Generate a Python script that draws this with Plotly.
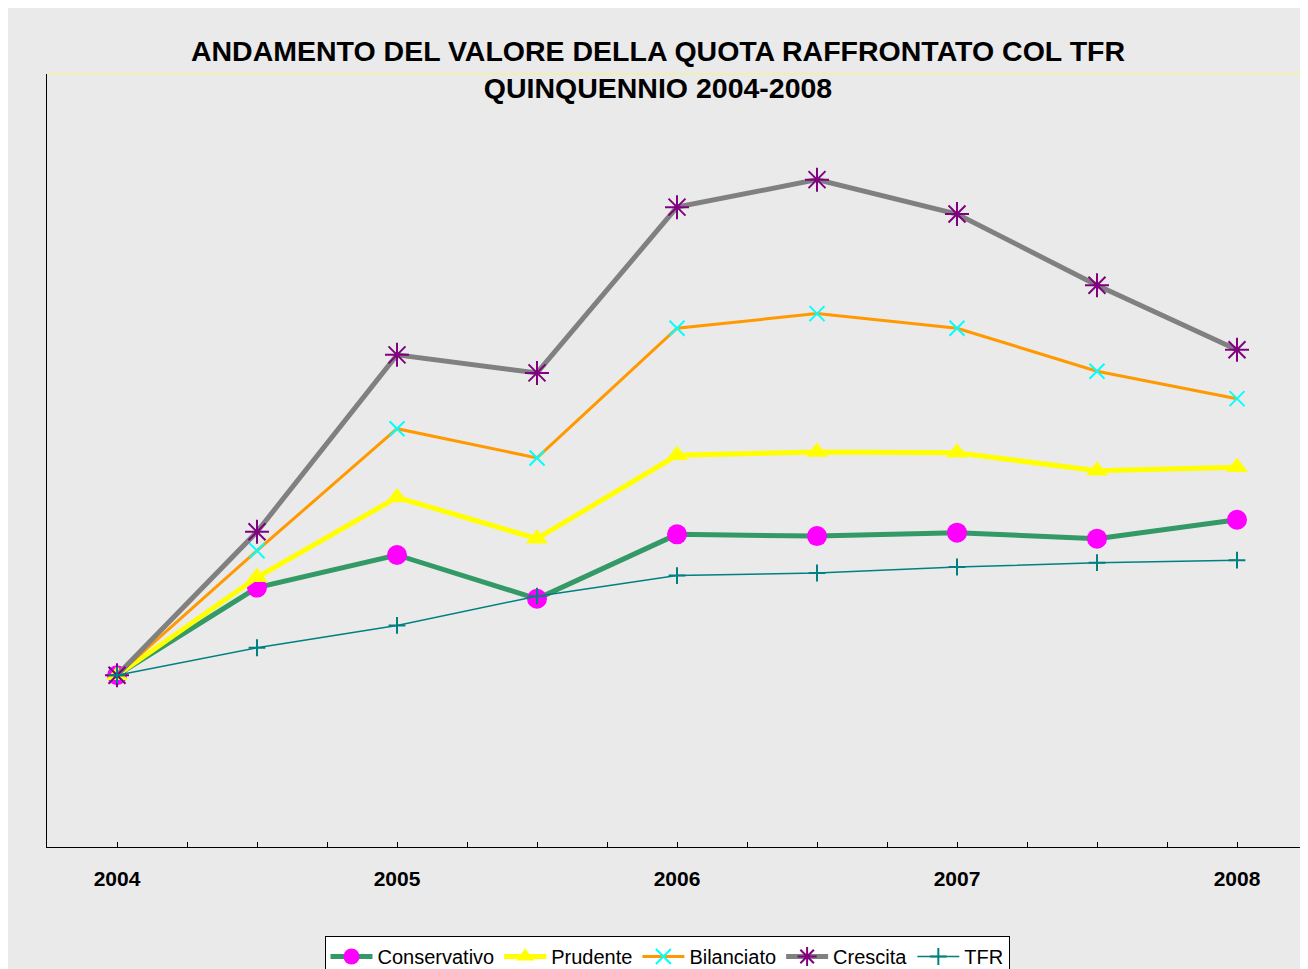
import plotly.graph_objects as go

# ---- data ----
years = ["2004", "2005", "2006", "2007", "2008"]
x_pos = [0, 1, 2, 3, 4, 5, 6, 7, 8]          # half-year steps; labels at even positions
label_pos = [0, 2, 4, 6, 8]

conservativo = [100.0, 110.2, 114.0, 108.9, 116.4, 116.2, 116.6, 115.9, 118.1]
prudente     = [100.0, 111.4, 120.7, 115.9, 125.6, 126.0, 125.9, 123.8, 124.2]
bilanciato   = [100.0, 114.5, 128.7, 125.3, 140.4, 142.1, 140.4, 135.4, 132.2]
crescita     = [100.0, 116.7, 137.3, 135.2, 154.5, 157.7, 153.7, 145.4, 137.9]
tfr          = [100.0, 103.2, 105.8, 109.2, 111.6, 111.9, 112.6, 113.1, 113.4]

BG = "#eaeaea"
FONT = "Liberation Sans, Arial, sans-serif"

fig = go.Figure()

fig.add_trace(go.Scatter(
    x=x_pos, y=conservativo, name="Conservativo", mode="lines+markers",
    line=dict(color="#339966", width=5),
    marker=dict(symbol="circle", size=20, color="#FF00FF", line=dict(width=0)),
))
fig.add_trace(go.Scatter(
    x=x_pos, y=prudente, name="Prudente", mode="lines+markers",
    line=dict(color="#FFFF00", width=5),
    marker=dict(symbol="triangle-up", size=19, color="#FFFF00", line=dict(width=0)),
))
fig.add_trace(go.Scatter(
    x=x_pos, y=bilanciato, name="Bilanciato", mode="lines+markers",
    line=dict(color="#FF9900", width=3),
    marker=dict(symbol="x-thin-open", size=15, color="#00FFFF",
                line=dict(width=2, color="#00FFFF")),
))
fig.add_trace(go.Scatter(
    x=x_pos, y=crescita, name="Crescita", mode="lines+markers",
    line=dict(color="#808080", width=5),
    marker=dict(symbol="asterisk-open", size=20, color="#800080",
                line=dict(width=2, color="#800080")),
))
fig.add_trace(go.Scatter(
    x=x_pos, y=tfr, name="TFR", mode="lines+markers",
    line=dict(color="#008080", width=1.5),
    marker=dict(symbol="cross-thin-open", size=12, color="#008080",
                line=dict(width=2, color="#008080")),
))

W, H = 1308, 985
# figure is offset by the page's 8px body margin
L, R, T = 39, 9, 66
PH = 773
B = H - T - PH
pw = W - L - R

def px_x(px):
    return (px - L) / pw

def px_y(py):
    return (H - B - py) / PH

fig.update_layout(
    width=W, height=H,
    margin=dict(l=L, r=R, t=T, b=B),
    paper_bgcolor=BG,
    plot_bgcolor=BG,
    font=dict(family=FONT, color="black"),
    title=dict(
        text="<b>ANDAMENTO DEL VALORE DELLA QUOTA RAFFRONTATO COL TFR<br>QUINQUENNIO 2004-2008</b>",
        x=650 / W, xanchor="center",
        y=1 - 53 / H, yanchor="top",
        font=dict(size=28.5, family=FONT, color="black"),
    ),
    xaxis=dict(
        range=[-0.5, 8.5],
        tickvals=label_pos, ticktext=["<b>%s</b>" % y for y in years],
        ticks="inside", ticklen=5, tickcolor="black", tickwidth=1,
        minor=dict(dtick=0.5, tick0=-0.5, ticks="inside", ticklen=5,
                   tickcolor="black", tickwidth=1),
        showline=True, linecolor="black", linewidth=1,
        showgrid=False, zeroline=False,
        tickfont=dict(size=21, family=FONT),
        ticklabelstandoff=13,
    ),
    yaxis=dict(
        range=[80, 170],
        showticklabels=False, ticks="",
        showline=True, linecolor="black", linewidth=1,
        showgrid=False, zeroline=False,
    ),
    legend=dict(
        orientation="h",
        x=px_x(659), xanchor="center",
        y=px_y(928), yanchor="top",
        bgcolor="white", bordercolor="black", borderwidth=1,
        font=dict(size=20, family=FONT),
        itemwidth=42,
        traceorder="normal",
    ),
    showlegend=True,
    shapes=[
        dict(type="line", xref="paper", yref="paper",
             x0=0, x1=1, y0=1, y1=1,
             line=dict(color="#f5f0a0", width=1.5)),
    ],
)

fig.write_html("out.html")
